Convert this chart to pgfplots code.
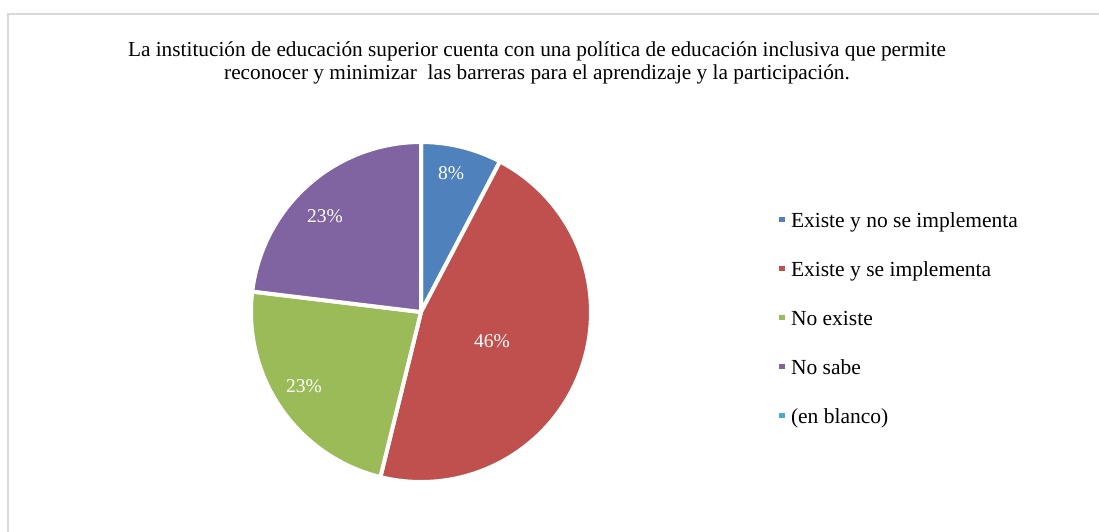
\documentclass[border=0pt]{standalone}
\usepackage{pgfplots}
\pgfplotsset{compat=1.18}
\usepackage{fontspec}
\setmainfont{Liberation Serif}
\definecolor{cBlue}{HTML}{4F81BD}
\definecolor{cRed}{HTML}{C0504D}
\definecolor{cGreen}{HTML}{9BBB59}
\definecolor{cPurple}{HTML}{8064A2}
\definecolor{cAqua}{HTML}{4BACC6}
\definecolor{cBorder}{HTML}{D9D9D9}
% shares (percent) of the answers
\def\pA{7.69}  % Existe y no se implementa
\def\pB{46.15} % Existe y se implementa
\def\pC{23.08} % No existe
\def\pD{23.08} % No sabe
\def\pE{0}     % (en blanco)
\def\cx{421}\def\cy{312}\def\pieR{170}
\pgfmathsetmacro{\aA}{0}
\pgfmathsetmacro{\aB}{\aA+3.6*\pA}
\pgfmathsetmacro{\aC}{\aB+3.6*\pB}
\pgfmathsetmacro{\aD}{\aC+3.6*\pC}
\pgfmathsetmacro{\aE}{\aD+3.6*\pD}
\begin{document}
\begin{tikzpicture}
\begin{axis}[name=ax, scale only axis, width=1099pt, height=531pt,
  xmin=0, xmax=1099, ymin=0, ymax=531, y dir=reverse, hide axis, clip=false,
  legend style={draw=none, fill=none, at={(axis cs:779,212)}, anchor=north west,
    inner sep=0pt, outer sep=0pt, row sep=29pt,
    nodes={inner sep=0pt, text height=15pt, text depth=5pt},
    font=\fontsize{21.5}{25}\selectfont, cells={anchor=west}},
  legend image code/.code={\path[draw=none,fill=none] (0pt,-10pt) rectangle (12pt,10pt); \fill[#1,draw=none] (0pt,0pt) rectangle (5.5pt,5.5pt);},
]
\draw[cBorder, line width=2pt] (axis cs:7.5,600) -- (axis cs:7.5,13.5) -- (axis cs:1200,13.5);
\addplot[fill=cBlue, draw=white, line width=4pt, line join=round, domain=\aA:\aB, samples=40, forget plot]
  ({\cx+\pieR*sin(x)}, {\cy-\pieR*cos(x)}) -- (axis cs:\cx,\cy) -- cycle;
\addplot[fill=cRed, draw=white, line width=4pt, line join=round, domain=\aB:\aC, samples=120, forget plot]
  ({\cx+\pieR*sin(x)}, {\cy-\pieR*cos(x)}) -- (axis cs:\cx,\cy) -- cycle;
\addplot[fill=cGreen, draw=white, line width=4pt, line join=round, domain=\aC:\aD, samples=60, forget plot]
  ({\cx+\pieR*sin(x)}, {\cy-\pieR*cos(x)}) -- (axis cs:\cx,\cy) -- cycle;
\addplot[fill=cPurple, draw=white, line width=4pt, line join=round, domain=\aD:\aE, samples=60, forget plot]
  ({\cx+\pieR*sin(x)}, {\cy-\pieR*cos(x)}) -- (axis cs:\cx,\cy) -- cycle;
\node[white, anchor=base, font=\fontsize{19.5}{22}\selectfont] at (axis cs:451,179) {8\%};
\node[white, anchor=base, font=\fontsize{19.5}{22}\selectfont] at (axis cs:492,347) {46\%};
\node[white, anchor=base, font=\fontsize{19.5}{22}\selectfont] at (axis cs:304,392) {23\%};
\node[white, anchor=base, font=\fontsize{19.5}{22}\selectfont] at (axis cs:325,222) {23\%};
\node[anchor=base, font=\fontsize{21.3}{23}\selectfont] at (axis cs:537,56) {La institución de educación superior cuenta con una política de educación inclusiva que permite};
\node[anchor=base, font=\fontsize{21.3}{23}\selectfont] at (axis cs:537,79) {reconocer y minimizar\ \ las barreras para el aprendizaje y la participación.};
\addlegendimage{fill=cBlue}\addlegendentry{Existe y no se implementa}
\addlegendimage{fill=cRed}\addlegendentry{Existe y se implementa}
\addlegendimage{fill=cGreen}\addlegendentry{No existe}
\addlegendimage{fill=cPurple}\addlegendentry{No sabe}
\addlegendimage{fill=cAqua}\addlegendentry{(en blanco)}
\end{axis}
\pgfresetboundingbox
\path[use as bounding box] (ax.south west) rectangle (ax.north east);
\end{tikzpicture}
\end{document}
